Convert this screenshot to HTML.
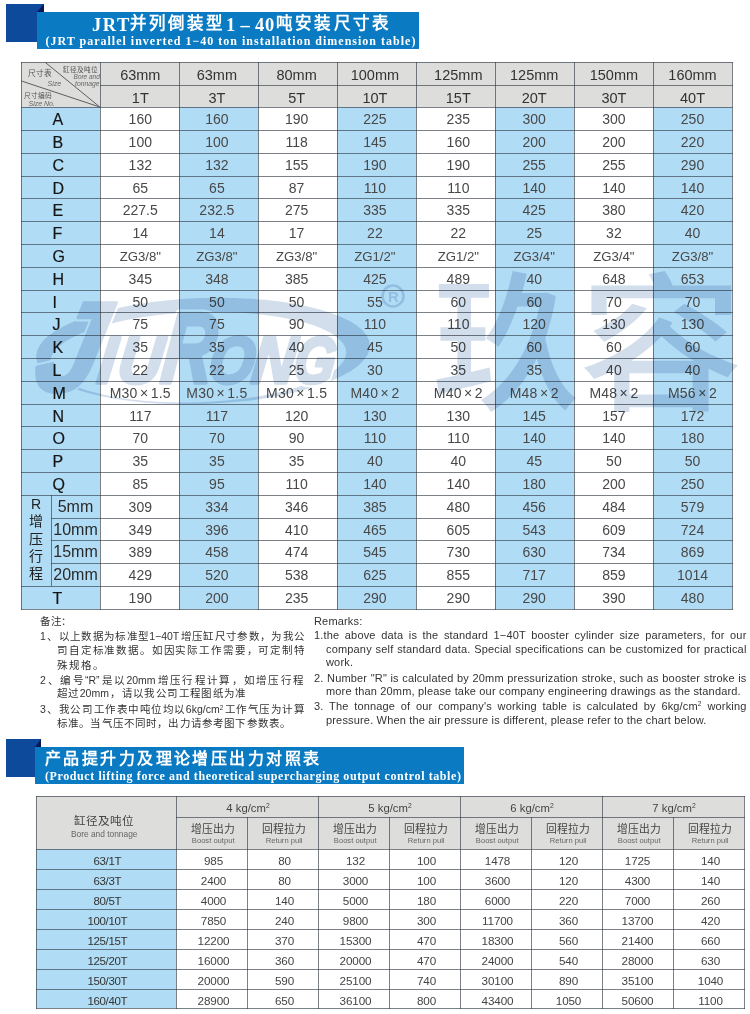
<!DOCTYPE html>
<html lang="zh-CN"><head><meta charset="utf-8"><title>JRT</title><style>
html,body{margin:0;padding:0;}
body{width:750px;height:1014px;position:relative;overflow:hidden;background:#fff;font-family:"Liberation Sans",sans-serif;color:#333;}
div,span{position:absolute;box-sizing:border-box;white-space:nowrap;}
.sq{background:#0d4a9c;}
.bar{background:#0a7ac3;}
.fold{width:0;height:0;border-style:solid;}
.t1{color:#fff;font-family:"Liberation Serif",serif;font-weight:bold;}
.c{text-align:center;}
.bl{background:#b1dcf5;}
.gr{background:#dddddb;}
.ln{background:rgba(48,58,68,0.64);}
.d{font-size:14px;color:#484848;text-align:center;line-height:23px;height:23px;}
.lab{font-size:16px;color:#151515;-webkit-text-stroke:0.2px #151515;text-align:center;line-height:23px;height:23px;}
.h{font-size:14.5px;color:#333;text-align:center;line-height:22px;height:22px;}
.d2{font-size:11.7px;letter-spacing:-0.15px;color:#444;text-align:center;line-height:20px;height:20px;}
.n{font-size:10.5px;color:#333;}
.it{font-style:italic;}
.cj{}
.e{font-size:11px;color:#333;}
sup{font-size:0.6em;line-height:0;vertical-align:0.55em;}
</style></head><body>
<div class="sq" style="left:6px;top:4px;width:38px;height:38px"></div>
<div class="fold" style="left:37px;top:4px;border-width:0 0 8px 7px;border-color:transparent transparent #0c1656 transparent"></div>
<div class="bar" style="left:37px;top:12px;width:382px;height:37px"></div>
<div class="t1" style="left:92px;top:13px;font-size:18.5px;letter-spacing:1.5px;line-height:24px">JRT</div>
<div class="t1 cj" style="left:130px;top:12px;width:92.5px;text-align:justify;text-align-last:justify;font-size:16.5px;line-height:24px">并列倒装型</div>
<div class="t1" style="left:226px;top:13px;font-size:18.5px;line-height:24px">1</div>
<div class="t1" style="left:240.5px;top:13px;font-size:18.5px;line-height:24px">–</div>
<div class="t1" style="left:255px;top:13px;font-size:18.5px;letter-spacing:0.8px;line-height:24px">40</div>
<div class="t1 cj" style="left:276px;top:12px;width:113px;text-align:justify;text-align-last:justify;font-size:16.5px;line-height:24px">吨安装尺寸表</div>
<div class="t1" style="left:45.5px;top:33.5px;font-size:12px;letter-spacing:1.0px;line-height:14px">(JRT parallel inverted 1−40 ton installation dimension table)</div>
<div class="gr" style="left:21px;top:62px;width:711px;height:45px"></div>
<div class="bl" style="left:21px;top:107px;width:79px;height:502px"></div>
<div class="bl" style="left:179px;top:107px;width:79px;height:502px"></div>
<div class="bl" style="left:337px;top:107px;width:79px;height:502px"></div>
<div class="bl" style="left:495px;top:107px;width:79px;height:502px"></div>
<div class="bl" style="left:653px;top:107px;width:79px;height:502px"></div>
<div class="h" style="left:100.8px;top:64.2px;width:79px">63mm</div>
<div class="h" style="left:100.8px;top:87px;width:79px">1T</div>
<div class="h" style="left:177.4px;top:64.2px;width:79px">63mm</div>
<div class="h" style="left:177.4px;top:87px;width:79px">3T</div>
<div class="h" style="left:257.1px;top:64.2px;width:79px">80mm</div>
<div class="h" style="left:257.1px;top:87px;width:79px">5T</div>
<div class="h" style="left:335.4px;top:64.2px;width:79px">100mm</div>
<div class="h" style="left:335.4px;top:87px;width:79px">10T</div>
<div class="h" style="left:418.8px;top:64.2px;width:79px">125mm</div>
<div class="h" style="left:418.8px;top:87px;width:79px">15T</div>
<div class="h" style="left:494.7px;top:64.2px;width:79px">125mm</div>
<div class="h" style="left:494.7px;top:87px;width:79px">20T</div>
<div class="h" style="left:574.4px;top:64.2px;width:79px">150mm</div>
<div class="h" style="left:574.4px;top:87px;width:79px">30T</div>
<div class="h" style="left:653px;top:64.2px;width:79px">160mm</div>
<div class="h" style="left:653px;top:87px;width:79px">40T</div>
<svg style="position:absolute;left:21px;top:62px" width="80" height="46" viewBox="0 0 80 46"><g stroke="#5e5e5e" stroke-width="1" fill="none"><line x1="24.4" y1="0.5" x2="78.8" y2="45"/><line x1="0.5" y1="19" x2="78.8" y2="45"/></g></svg>
<div style="left:28px;top:68.8px;font-size:7.7px;color:#555;line-height:10px">尺寸表</div>
<div class="it" style="left:47.5px;top:79px;font-size:7px;color:#666;line-height:9px">Size</div>
<div style="left:63px;top:65px;font-size:6.6px;color:#555;line-height:9px">缸径及吨位</div>
<div class="it" style="left:73.6px;top:73px;font-size:6.45px;color:#666;line-height:8px">Bore and</div>
<div class="it" style="left:75px;top:79.5px;font-size:6.8px;color:#666;line-height:8px">tonnage</div>
<div style="left:23.5px;top:90.5px;font-size:6.7px;color:#555;line-height:9px">尺寸编码</div>
<div class="it" style="left:28.5px;top:99px;font-size:7px;color:#666;line-height:9px">Size No.</div>
<div class="lab" style="left:52.4px;top:107.8px;text-align:left">A</div>
<div class="d" style="left:100.8px;top:107.9px;width:79px">160</div>
<div class="d" style="left:177.4px;top:107.9px;width:79px">160</div>
<div class="d" style="left:257.1px;top:107.9px;width:79px">190</div>
<div class="d" style="left:335.4px;top:107.9px;width:79px">225</div>
<div class="d" style="left:418.8px;top:107.9px;width:79px">235</div>
<div class="d" style="left:494.7px;top:107.9px;width:79px">300</div>
<div class="d" style="left:574.4px;top:107.9px;width:79px">300</div>
<div class="d" style="left:653px;top:107.9px;width:79px">250</div>
<div class="lab" style="left:52.4px;top:130.8px;text-align:left">B</div>
<div class="d" style="left:100.8px;top:130.9px;width:79px">100</div>
<div class="d" style="left:177.4px;top:130.9px;width:79px">100</div>
<div class="d" style="left:257.1px;top:130.9px;width:79px">118</div>
<div class="d" style="left:335.4px;top:130.9px;width:79px">145</div>
<div class="d" style="left:418.8px;top:130.9px;width:79px">160</div>
<div class="d" style="left:494.7px;top:130.9px;width:79px">200</div>
<div class="d" style="left:574.4px;top:130.9px;width:79px">200</div>
<div class="d" style="left:653px;top:130.9px;width:79px">220</div>
<div class="lab" style="left:52.4px;top:153.8px;text-align:left">C</div>
<div class="d" style="left:100.8px;top:153.9px;width:79px">132</div>
<div class="d" style="left:177.4px;top:153.9px;width:79px">132</div>
<div class="d" style="left:257.1px;top:153.9px;width:79px">155</div>
<div class="d" style="left:335.4px;top:153.9px;width:79px">190</div>
<div class="d" style="left:418.8px;top:153.9px;width:79px">190</div>
<div class="d" style="left:494.7px;top:153.9px;width:79px">255</div>
<div class="d" style="left:574.4px;top:153.9px;width:79px">255</div>
<div class="d" style="left:653px;top:153.9px;width:79px">290</div>
<div class="lab" style="left:52.4px;top:176.8px;text-align:left">D</div>
<div class="d" style="left:100.8px;top:176.9px;width:79px">65</div>
<div class="d" style="left:177.4px;top:176.9px;width:79px">65</div>
<div class="d" style="left:257.1px;top:176.9px;width:79px">87</div>
<div class="d" style="left:335.4px;top:176.9px;width:79px">110</div>
<div class="d" style="left:418.8px;top:176.9px;width:79px">110</div>
<div class="d" style="left:494.7px;top:176.9px;width:79px">140</div>
<div class="d" style="left:574.4px;top:176.9px;width:79px">140</div>
<div class="d" style="left:653px;top:176.9px;width:79px">140</div>
<div class="lab" style="left:52.4px;top:198.8px;text-align:left">E</div>
<div class="d" style="left:100.8px;top:198.9px;width:79px">227.5</div>
<div class="d" style="left:177.4px;top:198.9px;width:79px">232.5</div>
<div class="d" style="left:257.1px;top:198.9px;width:79px">275</div>
<div class="d" style="left:335.4px;top:198.9px;width:79px">335</div>
<div class="d" style="left:418.8px;top:198.9px;width:79px">335</div>
<div class="d" style="left:494.7px;top:198.9px;width:79px">425</div>
<div class="d" style="left:574.4px;top:198.9px;width:79px">380</div>
<div class="d" style="left:653px;top:198.9px;width:79px">420</div>
<div class="lab" style="left:52.4px;top:221.8px;text-align:left">F</div>
<div class="d" style="left:100.8px;top:221.9px;width:79px">14</div>
<div class="d" style="left:177.4px;top:221.9px;width:79px">14</div>
<div class="d" style="left:257.1px;top:221.9px;width:79px">17</div>
<div class="d" style="left:335.4px;top:221.9px;width:79px">22</div>
<div class="d" style="left:418.8px;top:221.9px;width:79px">22</div>
<div class="d" style="left:494.7px;top:221.9px;width:79px">25</div>
<div class="d" style="left:574.4px;top:221.9px;width:79px">32</div>
<div class="d" style="left:653px;top:221.9px;width:79px">40</div>
<div class="lab" style="left:52.4px;top:244.8px;text-align:left">G</div>
<div class="d" style="left:100.8px;top:244.9px;width:79px;font-size:13.2px">ZG3/8"</div>
<div class="d" style="left:177.4px;top:244.9px;width:79px;font-size:13.2px">ZG3/8"</div>
<div class="d" style="left:257.1px;top:244.9px;width:79px;font-size:13.2px">ZG3/8"</div>
<div class="d" style="left:335.4px;top:244.9px;width:79px;font-size:13.2px">ZG1/2"</div>
<div class="d" style="left:418.8px;top:244.9px;width:79px;font-size:13.2px">ZG1/2"</div>
<div class="d" style="left:494.7px;top:244.9px;width:79px;font-size:13.2px">ZG3/4"</div>
<div class="d" style="left:574.4px;top:244.9px;width:79px;font-size:13.2px">ZG3/4"</div>
<div class="d" style="left:653px;top:244.9px;width:79px;font-size:13.2px">ZG3/8"</div>
<div class="lab" style="left:52.4px;top:267.8px;text-align:left">H</div>
<div class="d" style="left:100.8px;top:267.9px;width:79px">345</div>
<div class="d" style="left:177.4px;top:267.9px;width:79px">348</div>
<div class="d" style="left:257.1px;top:267.9px;width:79px">385</div>
<div class="d" style="left:335.4px;top:267.9px;width:79px">425</div>
<div class="d" style="left:418.8px;top:267.9px;width:79px">489</div>
<div class="d" style="left:494.7px;top:267.9px;width:79px">40</div>
<div class="d" style="left:574.4px;top:267.9px;width:79px">648</div>
<div class="d" style="left:653px;top:267.9px;width:79px">653</div>
<div class="lab" style="left:52.4px;top:290.8px;text-align:left">I</div>
<div class="d" style="left:100.8px;top:290.9px;width:79px">50</div>
<div class="d" style="left:177.4px;top:290.9px;width:79px">50</div>
<div class="d" style="left:257.1px;top:290.9px;width:79px">50</div>
<div class="d" style="left:335.4px;top:290.9px;width:79px">55</div>
<div class="d" style="left:418.8px;top:290.9px;width:79px">60</div>
<div class="d" style="left:494.7px;top:290.9px;width:79px">60</div>
<div class="d" style="left:574.4px;top:290.9px;width:79px">70</div>
<div class="d" style="left:653px;top:290.9px;width:79px">70</div>
<div class="lab" style="left:52.4px;top:312.8px;text-align:left">J</div>
<div class="d" style="left:100.8px;top:312.9px;width:79px">75</div>
<div class="d" style="left:177.4px;top:312.9px;width:79px">75</div>
<div class="d" style="left:257.1px;top:312.9px;width:79px">90</div>
<div class="d" style="left:335.4px;top:312.9px;width:79px">110</div>
<div class="d" style="left:418.8px;top:312.9px;width:79px">110</div>
<div class="d" style="left:494.7px;top:312.9px;width:79px">120</div>
<div class="d" style="left:574.4px;top:312.9px;width:79px">130</div>
<div class="d" style="left:653px;top:312.9px;width:79px">130</div>
<div class="lab" style="left:52.4px;top:335.8px;text-align:left">K</div>
<div class="d" style="left:100.8px;top:335.9px;width:79px">35</div>
<div class="d" style="left:177.4px;top:335.9px;width:79px">35</div>
<div class="d" style="left:257.1px;top:335.9px;width:79px">40</div>
<div class="d" style="left:335.4px;top:335.9px;width:79px">45</div>
<div class="d" style="left:418.8px;top:335.9px;width:79px">50</div>
<div class="d" style="left:494.7px;top:335.9px;width:79px">60</div>
<div class="d" style="left:574.4px;top:335.9px;width:79px">60</div>
<div class="d" style="left:653px;top:335.9px;width:79px">60</div>
<div class="lab" style="left:52.4px;top:358.8px;text-align:left">L</div>
<div class="d" style="left:100.8px;top:358.9px;width:79px">22</div>
<div class="d" style="left:177.4px;top:358.9px;width:79px">22</div>
<div class="d" style="left:257.1px;top:358.9px;width:79px">25</div>
<div class="d" style="left:335.4px;top:358.9px;width:79px">30</div>
<div class="d" style="left:418.8px;top:358.9px;width:79px">35</div>
<div class="d" style="left:494.7px;top:358.9px;width:79px">35</div>
<div class="d" style="left:574.4px;top:358.9px;width:79px">40</div>
<div class="d" style="left:653px;top:358.9px;width:79px">40</div>
<div class="lab" style="left:52.4px;top:381.8px;text-align:left">M</div>
<div class="d" style="left:100.8px;top:381.9px;width:79px;font-size:14px;letter-spacing:0.2px">M30<span style="position:static;margin:0 2.4px">×</span>1.5</div>
<div class="d" style="left:177.4px;top:381.9px;width:79px;font-size:14px;letter-spacing:0.2px">M30<span style="position:static;margin:0 2.4px">×</span>1.5</div>
<div class="d" style="left:257.1px;top:381.9px;width:79px;font-size:14px;letter-spacing:0.2px">M30<span style="position:static;margin:0 2.4px">×</span>1.5</div>
<div class="d" style="left:335.4px;top:381.9px;width:79px;font-size:14px;letter-spacing:0.2px">M40<span style="position:static;margin:0 2.4px">×</span>2</div>
<div class="d" style="left:418.8px;top:381.9px;width:79px;font-size:14px;letter-spacing:0.2px">M40<span style="position:static;margin:0 2.4px">×</span>2</div>
<div class="d" style="left:494.7px;top:381.9px;width:79px;font-size:14px;letter-spacing:0.2px">M48<span style="position:static;margin:0 2.4px">×</span>2</div>
<div class="d" style="left:574.4px;top:381.9px;width:79px;font-size:14px;letter-spacing:0.2px">M48<span style="position:static;margin:0 2.4px">×</span>2</div>
<div class="d" style="left:653px;top:381.9px;width:79px;font-size:14px;letter-spacing:0.2px">M56<span style="position:static;margin:0 2.4px">×</span>2</div>
<div class="lab" style="left:52.4px;top:404.8px;text-align:left">N</div>
<div class="d" style="left:100.8px;top:404.9px;width:79px">117</div>
<div class="d" style="left:177.4px;top:404.9px;width:79px">117</div>
<div class="d" style="left:257.1px;top:404.9px;width:79px">120</div>
<div class="d" style="left:335.4px;top:404.9px;width:79px">130</div>
<div class="d" style="left:418.8px;top:404.9px;width:79px">130</div>
<div class="d" style="left:494.7px;top:404.9px;width:79px">145</div>
<div class="d" style="left:574.4px;top:404.9px;width:79px">157</div>
<div class="d" style="left:653px;top:404.9px;width:79px">172</div>
<div class="lab" style="left:52.4px;top:426.8px;text-align:left">O</div>
<div class="d" style="left:100.8px;top:426.9px;width:79px">70</div>
<div class="d" style="left:177.4px;top:426.9px;width:79px">70</div>
<div class="d" style="left:257.1px;top:426.9px;width:79px">90</div>
<div class="d" style="left:335.4px;top:426.9px;width:79px">110</div>
<div class="d" style="left:418.8px;top:426.9px;width:79px">110</div>
<div class="d" style="left:494.7px;top:426.9px;width:79px">140</div>
<div class="d" style="left:574.4px;top:426.9px;width:79px">140</div>
<div class="d" style="left:653px;top:426.9px;width:79px">180</div>
<div class="lab" style="left:52.4px;top:449.8px;text-align:left">P</div>
<div class="d" style="left:100.8px;top:449.9px;width:79px">35</div>
<div class="d" style="left:177.4px;top:449.9px;width:79px">35</div>
<div class="d" style="left:257.1px;top:449.9px;width:79px">35</div>
<div class="d" style="left:335.4px;top:449.9px;width:79px">40</div>
<div class="d" style="left:418.8px;top:449.9px;width:79px">40</div>
<div class="d" style="left:494.7px;top:449.9px;width:79px">45</div>
<div class="d" style="left:574.4px;top:449.9px;width:79px">50</div>
<div class="d" style="left:653px;top:449.9px;width:79px">50</div>
<div class="lab" style="left:52.4px;top:472.8px;text-align:left">Q</div>
<div class="d" style="left:100.8px;top:472.9px;width:79px">85</div>
<div class="d" style="left:177.4px;top:472.9px;width:79px">95</div>
<div class="d" style="left:257.1px;top:472.9px;width:79px">110</div>
<div class="d" style="left:335.4px;top:472.9px;width:79px">140</div>
<div class="d" style="left:418.8px;top:472.9px;width:79px">140</div>
<div class="d" style="left:494.7px;top:472.9px;width:79px">180</div>
<div class="d" style="left:574.4px;top:472.9px;width:79px">200</div>
<div class="d" style="left:653px;top:472.9px;width:79px">250</div>
<div class="lab" style="left:51px;top:495px;width:49px;font-size:16px;color:#2a2a2a;-webkit-text-stroke:0">5mm</div>
<div class="d" style="left:100.8px;top:495.9px;width:79px">309</div>
<div class="d" style="left:177.4px;top:495.9px;width:79px">334</div>
<div class="d" style="left:257.1px;top:495.9px;width:79px">346</div>
<div class="d" style="left:335.4px;top:495.9px;width:79px">385</div>
<div class="d" style="left:418.8px;top:495.9px;width:79px">480</div>
<div class="d" style="left:494.7px;top:495.9px;width:79px">456</div>
<div class="d" style="left:574.4px;top:495.9px;width:79px">484</div>
<div class="d" style="left:653px;top:495.9px;width:79px">579</div>
<div class="lab" style="left:51px;top:518px;width:49px;font-size:16px;color:#2a2a2a;-webkit-text-stroke:0">10mm</div>
<div class="d" style="left:100.8px;top:518.9px;width:79px">349</div>
<div class="d" style="left:177.4px;top:518.9px;width:79px">396</div>
<div class="d" style="left:257.1px;top:518.9px;width:79px">410</div>
<div class="d" style="left:335.4px;top:518.9px;width:79px">465</div>
<div class="d" style="left:418.8px;top:518.9px;width:79px">605</div>
<div class="d" style="left:494.7px;top:518.9px;width:79px">543</div>
<div class="d" style="left:574.4px;top:518.9px;width:79px">609</div>
<div class="d" style="left:653px;top:518.9px;width:79px">724</div>
<div class="lab" style="left:51px;top:540px;width:49px;font-size:16px;color:#2a2a2a;-webkit-text-stroke:0">15mm</div>
<div class="d" style="left:100.8px;top:540.9px;width:79px">389</div>
<div class="d" style="left:177.4px;top:540.9px;width:79px">458</div>
<div class="d" style="left:257.1px;top:540.9px;width:79px">474</div>
<div class="d" style="left:335.4px;top:540.9px;width:79px">545</div>
<div class="d" style="left:418.8px;top:540.9px;width:79px">730</div>
<div class="d" style="left:494.7px;top:540.9px;width:79px">630</div>
<div class="d" style="left:574.4px;top:540.9px;width:79px">734</div>
<div class="d" style="left:653px;top:540.9px;width:79px">869</div>
<div class="lab" style="left:51px;top:563px;width:49px;font-size:16px;color:#2a2a2a;-webkit-text-stroke:0">20mm</div>
<div class="d" style="left:100.8px;top:563.9px;width:79px">429</div>
<div class="d" style="left:177.4px;top:563.9px;width:79px">520</div>
<div class="d" style="left:257.1px;top:563.9px;width:79px">538</div>
<div class="d" style="left:335.4px;top:563.9px;width:79px">625</div>
<div class="d" style="left:418.8px;top:563.9px;width:79px">855</div>
<div class="d" style="left:494.7px;top:563.9px;width:79px">717</div>
<div class="d" style="left:574.4px;top:563.9px;width:79px">859</div>
<div class="d" style="left:653px;top:563.9px;width:79px">1014</div>
<div class="lab" style="left:52.4px;top:586.8px;text-align:left">T</div>
<div class="d" style="left:100.8px;top:586.9px;width:79px">190</div>
<div class="d" style="left:177.4px;top:586.9px;width:79px">200</div>
<div class="d" style="left:257.1px;top:586.9px;width:79px">235</div>
<div class="d" style="left:335.4px;top:586.9px;width:79px">290</div>
<div class="d" style="left:418.8px;top:586.9px;width:79px">290</div>
<div class="d" style="left:494.7px;top:586.9px;width:79px">290</div>
<div class="d" style="left:574.4px;top:586.9px;width:79px">390</div>
<div class="d" style="left:653px;top:586.9px;width:79px">480</div>
<div class="c" style="left:21px;top:496px;width:30px;font-size:14px;line-height:17.3px;color:#222;white-space:normal">R<br>增<br>压<br>行<br>程</div>
<div class="ln" style="left:21px;top:62px;width:1px;height:548px"></div>
<div class="ln" style="left:100px;top:62px;width:1px;height:548px"></div>
<div class="ln" style="left:179px;top:62px;width:1px;height:548px"></div>
<div class="ln" style="left:258px;top:62px;width:1px;height:548px"></div>
<div class="ln" style="left:337px;top:62px;width:1px;height:548px"></div>
<div class="ln" style="left:416px;top:62px;width:1px;height:548px"></div>
<div class="ln" style="left:495px;top:62px;width:1px;height:548px"></div>
<div class="ln" style="left:574px;top:62px;width:1px;height:548px"></div>
<div class="ln" style="left:653px;top:62px;width:1px;height:548px"></div>
<div class="ln" style="left:732px;top:62px;width:1px;height:548px"></div>
<div class="ln" style="left:51px;top:495px;width:1px;height:91px"></div>
<div class="ln" style="left:21px;top:62px;width:712px;height:1px"></div>
<div class="ln" style="left:100px;top:85px;width:633px;height:1px"></div>
<div class="ln" style="left:21px;top:107px;width:712px;height:1px"></div>
<div class="ln" style="left:21px;top:130px;width:712px;height:1px"></div>
<div class="ln" style="left:21px;top:153px;width:712px;height:1px"></div>
<div class="ln" style="left:21px;top:176px;width:712px;height:1px"></div>
<div class="ln" style="left:21px;top:198px;width:712px;height:1px"></div>
<div class="ln" style="left:21px;top:221px;width:712px;height:1px"></div>
<div class="ln" style="left:21px;top:244px;width:712px;height:1px"></div>
<div class="ln" style="left:21px;top:267px;width:712px;height:1px"></div>
<div class="ln" style="left:21px;top:290px;width:712px;height:1px"></div>
<div class="ln" style="left:21px;top:312px;width:712px;height:1px"></div>
<div class="ln" style="left:21px;top:335px;width:712px;height:1px"></div>
<div class="ln" style="left:21px;top:358px;width:712px;height:1px"></div>
<div class="ln" style="left:21px;top:381px;width:712px;height:1px"></div>
<div class="ln" style="left:21px;top:404px;width:712px;height:1px"></div>
<div class="ln" style="left:21px;top:426px;width:712px;height:1px"></div>
<div class="ln" style="left:21px;top:449px;width:712px;height:1px"></div>
<div class="ln" style="left:21px;top:472px;width:712px;height:1px"></div>
<div class="ln" style="left:21px;top:495px;width:712px;height:1px"></div>
<div class="ln" style="left:51px;top:518px;width:682px;height:1px"></div>
<div class="ln" style="left:51px;top:540px;width:682px;height:1px"></div>
<div class="ln" style="left:51px;top:563px;width:682px;height:1px"></div>
<div class="ln" style="left:21px;top:586px;width:712px;height:1px"></div>
<div class="ln" style="left:21px;top:609px;width:712px;height:1px"></div>
<div class="n" style="left:40px;top:614px;line-height:14px;letter-spacing:0.7px">备注：</div>
<div class="n" style="left:40px;top:629px;line-height:14px;letter-spacing:0.7px;width:264px;text-align:justify;text-align-last:justify;white-space:nowrap;letter-spacing:0">1、以上数据为标准型1−40T增压缸尺寸参数，为我公</div>
<div class="n" style="left:57px;top:642.5px;line-height:14px;letter-spacing:0.7px;width:247px;text-align:justify;text-align-last:justify;white-space:nowrap;letter-spacing:0">司自定标准数据。如因实际工作需要，可定制特</div>
<div class="n" style="left:57px;top:657.5px;line-height:14px;letter-spacing:0.7px;width:46px;text-align:justify;text-align-last:justify;white-space:nowrap;letter-spacing:0">殊规格。</div>
<div class="n" style="left:40px;top:672.5px;line-height:14px;letter-spacing:0.7px;width:263px;text-align:justify;text-align-last:justify;white-space:nowrap;letter-spacing:0">2、编号“R”是以20mm增压行程计算，如增压行程</div>
<div class="n" style="left:57px;top:686px;line-height:14px;letter-spacing:0.7px;width:188.4px;text-align:justify;text-align-last:justify;white-space:nowrap;letter-spacing:0">超过20mm，请以我公司工程图纸为准</div>
<div class="n" style="left:40px;top:702px;line-height:14px;letter-spacing:0.7px;width:264px;text-align:justify;text-align-last:justify;white-space:nowrap;letter-spacing:0">3、我公司工作表中吨位均以6kg/cm<sup>2</sup>工作气压为计算</div>
<div class="n" style="left:57px;top:716px;line-height:14px;letter-spacing:0.7px;width:233px;text-align:justify;text-align-last:justify;white-space:nowrap;letter-spacing:0">标准。当气压不同时，出力请参考图下参数表。</div>
<div class="e" style="left:314px;top:613.5px;line-height:14px;letter-spacing:0.17px">Remarks:</div>
<div class="e" style="left:314px;top:628px;line-height:14px;letter-spacing:0.17px;width:432.5px;text-align:justify;text-align-last:justify;white-space:nowrap">1.the above data is the standard 1−40T booster cylinder size parameters, for our</div>
<div class="e" style="left:326px;top:641.5px;line-height:14px;letter-spacing:0.17px;width:420.5px;text-align:justify;text-align-last:justify;white-space:nowrap">company self standard data. Special specifications can be customized for practical</div>
<div class="e" style="left:326px;top:655px;line-height:14px;letter-spacing:0.17px">work.</div>
<div class="e" style="left:314px;top:670.5px;line-height:14px;letter-spacing:0.17px;width:432.5px;text-align:justify;text-align-last:justify;white-space:nowrap">2. Number "R" is calculated by 20mm pressurization stroke, such as booster stroke is</div>
<div class="e" style="left:326px;top:684px;line-height:14px;letter-spacing:0.17px">more than 20mm, please take our company engineering drawings as the standard.</div>
<div class="e" style="left:314px;top:699px;line-height:14px;letter-spacing:0.17px;width:432.5px;text-align:justify;text-align-last:justify;white-space:nowrap">3. The tonnage of our company's working table is calculated by 6kg/cm<sup>2</sup> working</div>
<div class="e" style="left:326px;top:712.5px;line-height:14px;letter-spacing:0.17px">pressure. When the air pressure is different, please refer to the chart below.</div>
<div class="sq" style="left:6px;top:739px;width:35px;height:38px"></div>
<div class="fold" style="left:35px;top:739px;border-width:0 0 8px 6px;border-color:transparent transparent #0c1656 transparent"></div>
<div class="bar" style="left:35px;top:747px;width:429px;height:37px"></div>
<div class="t1 cj" style="left:45px;top:747px;width:274px;text-align:justify;text-align-last:justify;font-size:16px;line-height:24px">产品提升力及理论增压出力对照表</div>
<div class="t1" style="left:45px;top:769.3px;font-size:12px;letter-spacing:0.59px;line-height:14px">(Product lifting force and theoretical supercharging output control table)</div>
<div class="gr" style="left:36px;top:796px;width:708px;height:53px"></div>
<div class="bl" style="left:36px;top:849px;width:140px;height:159px"></div>
<div class="c" style="left:34px;top:812.5px;width:140px;font-size:11.6px;line-height:16px;color:#444">缸径及吨位</div>
<div class="c" style="left:34.2px;top:829.1px;width:140px;font-size:8.4px;line-height:11px;color:#666">Bore and tonnage</div>
<div class="c" style="left:177px;top:798.6px;width:142px;font-size:11.3px;line-height:18px;color:#444">4 kg/cm<sup>2</sup></div>
<div class="c" style="left:319px;top:798.6px;width:142px;font-size:11.3px;line-height:18px;color:#444">5 kg/cm<sup>2</sup></div>
<div class="c" style="left:461px;top:798.6px;width:142px;font-size:11.3px;line-height:18px;color:#444">6 kg/cm<sup>2</sup></div>
<div class="c" style="left:603px;top:798.6px;width:142px;font-size:11.3px;line-height:18px;color:#444">7 kg/cm<sup>2</sup></div>
<div class="c" style="left:177.7px;top:822px;width:71px;font-size:10.8px;line-height:14px;color:#444">增压出力</div>
<div class="c" style="left:177.7px;top:836px;width:71px;font-size:7.6px;line-height:10px;color:#666">Boost output</div>
<div class="c" style="left:248.7px;top:822px;width:71px;font-size:10.8px;line-height:14px;color:#444">回程拉力</div>
<div class="c" style="left:248.7px;top:836px;width:71px;font-size:7.6px;line-height:10px;color:#666">Return pull</div>
<div class="c" style="left:319.7px;top:822px;width:71px;font-size:10.8px;line-height:14px;color:#444">增压出力</div>
<div class="c" style="left:319.7px;top:836px;width:71px;font-size:7.6px;line-height:10px;color:#666">Boost output</div>
<div class="c" style="left:390.7px;top:822px;width:71px;font-size:10.8px;line-height:14px;color:#444">回程拉力</div>
<div class="c" style="left:390.7px;top:836px;width:71px;font-size:7.6px;line-height:10px;color:#666">Return pull</div>
<div class="c" style="left:461.7px;top:822px;width:71px;font-size:10.8px;line-height:14px;color:#444">增压出力</div>
<div class="c" style="left:461.7px;top:836px;width:71px;font-size:7.6px;line-height:10px;color:#666">Boost output</div>
<div class="c" style="left:532.7px;top:822px;width:71px;font-size:10.8px;line-height:14px;color:#444">回程拉力</div>
<div class="c" style="left:532.7px;top:836px;width:71px;font-size:7.6px;line-height:10px;color:#666">Return pull</div>
<div class="c" style="left:603.7px;top:822px;width:71px;font-size:10.8px;line-height:14px;color:#444">增压出力</div>
<div class="c" style="left:603.7px;top:836px;width:71px;font-size:7.6px;line-height:10px;color:#666">Boost output</div>
<div class="c" style="left:674.7px;top:822px;width:71px;font-size:10.8px;line-height:14px;color:#444">回程拉力</div>
<div class="c" style="left:674.7px;top:836px;width:71px;font-size:7.6px;line-height:10px;color:#666">Return pull</div>
<div class="d2" style="left:37.3px;top:850.7px;width:140px;color:#333;font-size:11.5px;letter-spacing:-0.35px">63/1T</div>
<div class="d2" style="left:178.0px;top:850.6px;width:71px">985</div>
<div class="d2" style="left:249.0px;top:850.6px;width:71px">80</div>
<div class="d2" style="left:320.0px;top:850.6px;width:71px">132</div>
<div class="d2" style="left:391.0px;top:850.6px;width:71px">100</div>
<div class="d2" style="left:462.0px;top:850.6px;width:71px">1478</div>
<div class="d2" style="left:533.0px;top:850.6px;width:71px">120</div>
<div class="d2" style="left:602px;top:850.6px;width:71px">1725</div>
<div class="d2" style="left:675.0px;top:850.6px;width:71px">140</div>
<div class="d2" style="left:37.3px;top:870.7px;width:140px;color:#333;font-size:11.5px;letter-spacing:-0.35px">63/3T</div>
<div class="d2" style="left:178.0px;top:870.6px;width:71px">2400</div>
<div class="d2" style="left:249.0px;top:870.6px;width:71px">80</div>
<div class="d2" style="left:320.0px;top:870.6px;width:71px">3000</div>
<div class="d2" style="left:391.0px;top:870.6px;width:71px">100</div>
<div class="d2" style="left:462.0px;top:870.6px;width:71px">3600</div>
<div class="d2" style="left:533.0px;top:870.6px;width:71px">120</div>
<div class="d2" style="left:602px;top:870.6px;width:71px">4300</div>
<div class="d2" style="left:675.0px;top:870.6px;width:71px">140</div>
<div class="d2" style="left:37.3px;top:890.7px;width:140px;color:#333;font-size:11.5px;letter-spacing:-0.35px">80/5T</div>
<div class="d2" style="left:178.0px;top:890.6px;width:71px">4000</div>
<div class="d2" style="left:249.0px;top:890.6px;width:71px">140</div>
<div class="d2" style="left:320.0px;top:890.6px;width:71px">5000</div>
<div class="d2" style="left:391.0px;top:890.6px;width:71px">180</div>
<div class="d2" style="left:462.0px;top:890.6px;width:71px">6000</div>
<div class="d2" style="left:533.0px;top:890.6px;width:71px">220</div>
<div class="d2" style="left:602px;top:890.6px;width:71px">7000</div>
<div class="d2" style="left:675.0px;top:890.6px;width:71px">260</div>
<div class="d2" style="left:37.3px;top:910.7px;width:140px;color:#333;font-size:11.5px;letter-spacing:-0.35px">100/10T</div>
<div class="d2" style="left:178.0px;top:910.6px;width:71px">7850</div>
<div class="d2" style="left:249.0px;top:910.6px;width:71px">240</div>
<div class="d2" style="left:320.0px;top:910.6px;width:71px">9800</div>
<div class="d2" style="left:391.0px;top:910.6px;width:71px">300</div>
<div class="d2" style="left:462.0px;top:910.6px;width:71px">11700</div>
<div class="d2" style="left:533.0px;top:910.6px;width:71px">360</div>
<div class="d2" style="left:602px;top:910.6px;width:71px">13700</div>
<div class="d2" style="left:675.0px;top:910.6px;width:71px">420</div>
<div class="d2" style="left:37.3px;top:930.7px;width:140px;color:#333;font-size:11.5px;letter-spacing:-0.35px">125/15T</div>
<div class="d2" style="left:178.0px;top:930.6px;width:71px">12200</div>
<div class="d2" style="left:249.0px;top:930.6px;width:71px">370</div>
<div class="d2" style="left:320.0px;top:930.6px;width:71px">15300</div>
<div class="d2" style="left:391.0px;top:930.6px;width:71px">470</div>
<div class="d2" style="left:462.0px;top:930.6px;width:71px">18300</div>
<div class="d2" style="left:533.0px;top:930.6px;width:71px">560</div>
<div class="d2" style="left:602px;top:930.6px;width:71px">21400</div>
<div class="d2" style="left:675.0px;top:930.6px;width:71px">660</div>
<div class="d2" style="left:37.3px;top:950.7px;width:140px;color:#333;font-size:11.5px;letter-spacing:-0.35px">125/20T</div>
<div class="d2" style="left:178.0px;top:950.6px;width:71px">16000</div>
<div class="d2" style="left:249.0px;top:950.6px;width:71px">360</div>
<div class="d2" style="left:320.0px;top:950.6px;width:71px">20000</div>
<div class="d2" style="left:391.0px;top:950.6px;width:71px">470</div>
<div class="d2" style="left:462.0px;top:950.6px;width:71px">24000</div>
<div class="d2" style="left:533.0px;top:950.6px;width:71px">540</div>
<div class="d2" style="left:602px;top:950.6px;width:71px">28000</div>
<div class="d2" style="left:675.0px;top:950.6px;width:71px">630</div>
<div class="d2" style="left:37.3px;top:970.7px;width:140px;color:#333;font-size:11.5px;letter-spacing:-0.35px">150/30T</div>
<div class="d2" style="left:178.0px;top:970.6px;width:71px">20000</div>
<div class="d2" style="left:249.0px;top:970.6px;width:71px">590</div>
<div class="d2" style="left:320.0px;top:970.6px;width:71px">25100</div>
<div class="d2" style="left:391.0px;top:970.6px;width:71px">740</div>
<div class="d2" style="left:462.0px;top:970.6px;width:71px">30100</div>
<div class="d2" style="left:533.0px;top:970.6px;width:71px">890</div>
<div class="d2" style="left:602px;top:970.6px;width:71px">35100</div>
<div class="d2" style="left:675.0px;top:970.6px;width:71px">1040</div>
<div class="d2" style="left:37.3px;top:990.7px;width:140px;color:#333;font-size:11.5px;letter-spacing:-0.35px">160/40T</div>
<div class="d2" style="left:178.0px;top:990.6px;width:71px">28900</div>
<div class="d2" style="left:249.0px;top:990.6px;width:71px">650</div>
<div class="d2" style="left:320.0px;top:990.6px;width:71px">36100</div>
<div class="d2" style="left:391.0px;top:990.6px;width:71px">800</div>
<div class="d2" style="left:462.0px;top:990.6px;width:71px">43400</div>
<div class="d2" style="left:533.0px;top:990.6px;width:71px">1050</div>
<div class="d2" style="left:602px;top:990.6px;width:71px">50600</div>
<div class="d2" style="left:675.0px;top:990.6px;width:71px">1100</div>
<div class="ln" style="left:36px;top:796px;width:1px;height:213px"></div>
<div class="ln" style="left:176px;top:796px;width:1px;height:213px"></div>
<div class="ln" style="left:247px;top:817px;width:1px;height:192px"></div>
<div class="ln" style="left:318px;top:796px;width:1px;height:213px"></div>
<div class="ln" style="left:389px;top:817px;width:1px;height:192px"></div>
<div class="ln" style="left:460px;top:796px;width:1px;height:213px"></div>
<div class="ln" style="left:531px;top:817px;width:1px;height:192px"></div>
<div class="ln" style="left:602px;top:796px;width:1px;height:213px"></div>
<div class="ln" style="left:673px;top:817px;width:1px;height:192px"></div>
<div class="ln" style="left:744px;top:796px;width:1px;height:213px"></div>
<div class="ln" style="left:36px;top:796px;width:709px;height:1px"></div>
<div class="ln" style="left:176px;top:817px;width:569px;height:1px"></div>
<div class="ln" style="left:36px;top:849px;width:709px;height:1px"></div>
<div class="ln" style="left:36px;top:869px;width:709px;height:1px"></div>
<div class="ln" style="left:36px;top:889px;width:709px;height:1px"></div>
<div class="ln" style="left:36px;top:909px;width:709px;height:1px"></div>
<div class="ln" style="left:36px;top:929px;width:709px;height:1px"></div>
<div class="ln" style="left:36px;top:949px;width:709px;height:1px"></div>
<div class="ln" style="left:36px;top:969px;width:709px;height:1px"></div>
<div class="ln" style="left:36px;top:989px;width:709px;height:1px"></div>
<div class="ln" style="left:36px;top:1008px;width:709px;height:1px"></div>
<svg style="position:absolute;left:0;top:0;mix-blend-mode:multiply;pointer-events:none" width="750" height="1014" viewBox="0 0 750 1014">
<g fill="#d2deeb">
<g transform="rotate(-2 203 350)"><path fill-rule="evenodd" d="M36 351a167 53 0 1 0 334 0a167 53 0 1 0 -334 0Z M50 357a148 45 0 1 0 296 0a148 45 0 1 0 -296 0Z"/></g>
<g font-family="Liberation Sans, sans-serif" font-weight="bold" font-style="italic" stroke-linejoin="round">
<text transform="translate(30 391) skewX(-13) scale(0.9 1)" font-size="128" stroke="#fff" stroke-width="8">J</text>
<text transform="translate(96 383) skewX(-7) scale(0.95 1)" font-size="66" stroke="#fff" stroke-width="8">I</text>
<text transform="translate(116 383) skewX(-7) scale(0.92 1)" font-size="66" stroke="#fff" stroke-width="8">U</text>
<text transform="translate(159 383) skewX(-7) scale(0.72 1)" font-size="101" stroke="#fff" stroke-width="8">R</text>
<text transform="translate(207 383) skewX(-7) scale(0.88 1)" font-size="66" stroke="#fff" stroke-width="8">O</text>
<text transform="translate(250 383) skewX(-7) scale(0.9 1)" font-size="66" stroke="#fff" stroke-width="8">N</text>
<text transform="translate(292 383) skewX(-7) scale(0.8 1)" font-size="66" stroke="#fff" stroke-width="8">G</text>
<text transform="translate(30 391) skewX(-13) scale(0.9 1)" font-size="128" stroke="#d2deeb" stroke-width="3.5">J</text>
<text transform="translate(96 383) skewX(-7) scale(0.95 1)" font-size="66" stroke="#d2deeb" stroke-width="3.5">I</text>
<text transform="translate(116 383) skewX(-7) scale(0.92 1)" font-size="66" stroke="#d2deeb" stroke-width="3.5">U</text>
<text transform="translate(159 383) skewX(-7) scale(0.72 1)" font-size="101" stroke="#d2deeb" stroke-width="3.5">R</text>
<text transform="translate(207 383) skewX(-7) scale(0.88 1)" font-size="66" stroke="#d2deeb" stroke-width="3.5">O</text>
<text transform="translate(250 383) skewX(-7) scale(0.9 1)" font-size="66" stroke="#d2deeb" stroke-width="3.5">N</text>
<text transform="translate(292 383) skewX(-7) scale(0.8 1)" font-size="66" stroke="#d2deeb" stroke-width="3.5">G</text>
</g>
<circle cx="393" cy="296" r="10.5" fill="none" stroke="#d2deeb" stroke-width="2.6"/>
<text x="393.3" y="301.5" font-family="Liberation Sans, sans-serif" font-weight="bold" font-size="15" text-anchor="middle">R</text>
<path transform="matrix(0.1470 0 0 -0.1510 432.53 398.41)" d="M545 844C509 672 446 502 362 396C385 384 428 357 447 342C497 412 542 505 578 608H727C666 322 516 93 330 -10C353 -28 383 -65 398 -90C523 -12 629 106 709 262C750 116 811 -5 904 -81C920 -55 952 -18 976 1C868 78 802 228 767 397C798 482 823 576 839 679L774 702L756 698H608C620 740 631 783 641 826ZM27 125 45 28C143 51 275 82 398 113L389 204L262 175V382H359V472H262V667H384V758H43V667H169V472H54V382H169V154Z"/>
<path transform="matrix(0.1652 0 0 -0.1503 578.55 399.22)" d="M325 636C271 565 179 497 90 454C109 437 141 400 155 382C247 434 349 518 414 606ZM576 581C666 525 777 441 829 384L898 446C842 502 728 582 640 635ZM488 546C394 396 219 276 33 210C55 190 80 157 93 134C135 151 176 170 216 192V-85H308V-53H690V-82H787V203C824 183 863 164 904 146C917 173 942 205 965 225C805 286 667 362 553 484L570 510ZM308 31V172H690V31ZM320 256C388 303 450 358 502 419C564 353 628 301 698 256ZM424 831C437 809 449 782 459 757H78V560H170V671H826V560H923V757H570C559 788 540 824 522 853Z"/>
</g></svg>
</body></html>
